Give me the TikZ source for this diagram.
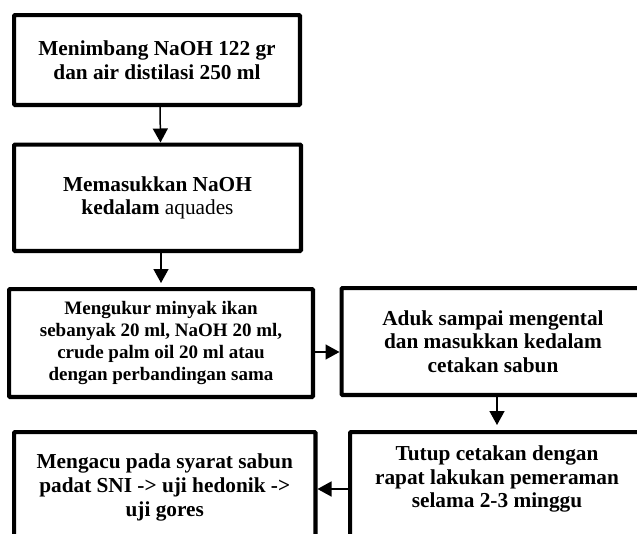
\documentclass[tikz,border=0pt]{standalone}
\usepackage{fontspec}
\setmainfont{Liberation Serif}
\usetikzlibrary{arrows.meta,calc}
\tikzset{
  box/.style={draw=black, line width=4.2pt, rounded corners=1pt, fill=white, inner sep=0pt,
    align=center, font=\fontsize{21.3}{23.6}\selectfont\bfseries},
  smallbox/.style={box, font=\fontsize{19}{21.7}\selectfont\bfseries},
  txt/.style={align=center, inner sep=0pt, font=\fontsize{21.3}{23.4}\selectfont\bfseries},
  arr/.style={draw=black, line width=1.5pt, -{Triangle[width=15pt,length=14pt]}}
}
\begin{document}
\begin{tikzpicture}[x=1pt,y=-1pt]
\useasboundingbox (0,0) rectangle (637,533);
\clip (0,0) rectangle (637,533);
\node[box, minimum width=285.8pt, minimum height=89.8pt] (b1) at (157,60)
  {Menimbang NaOH 122 gr\\dan air distilasi 250 ml};
\node[box, minimum width=286.8pt, minimum height=106.3pt] (b2) at (157.5,197.75)
  {Memasukkan NaOH\\kedalam \mdseries aquades};
\node[smallbox, minimum width=303.8pt, minimum height=107.8pt] (b3) at (161,343)
  {Mengukur minyak ikan\\sebanyak 20 ml, NaOH 20 ml,\\crude palm oil 20 ml atau\\dengan perbandingan sama};
\node[box, minimum width=302.8pt, minimum height=106.8pt] (b4) at (493,341.5)
  {Aduk sampai mengental\\dan masukkan kedalam\\cetakan sabun};
\node[box, minimum width=293.8pt, minimum height=125.8pt] (b5) at (497,495) {};
\node[txt] (t5) at (497,479) {Tutup cetakan dengan\\rapat lakukan pemeraman\\selama 2-3 minggu};
\node[box, minimum width=301.3pt, minimum height=110.8pt] (b6) at (164.75,487.5)
  {Mengacu pada syarat sabun\\padat SNI -> uji hedonik ->\\uji gores};
\coordinate (r3) at (0,352);
\coordinate (r5) at (0,489);
\draw[arr] ([xshift=3pt]b1.south) -- ([xshift=3pt]b2.north);
\draw[arr, shorten >=4pt] ([xshift=3.5pt]b2.south) -- ([xshift=3.5pt]b2.south |- b3.north);
\draw[arr] (b3.east |- r3) -- (b4.west |- r3);
\draw[arr, shorten >=5pt] ([xshift=4pt]b4.south) -- ([xshift=4pt]b4.south |- b5.north);
\draw[arr] (b5.west |- r5) -- (b6.east |- r5);
\end{tikzpicture}
\end{document}
